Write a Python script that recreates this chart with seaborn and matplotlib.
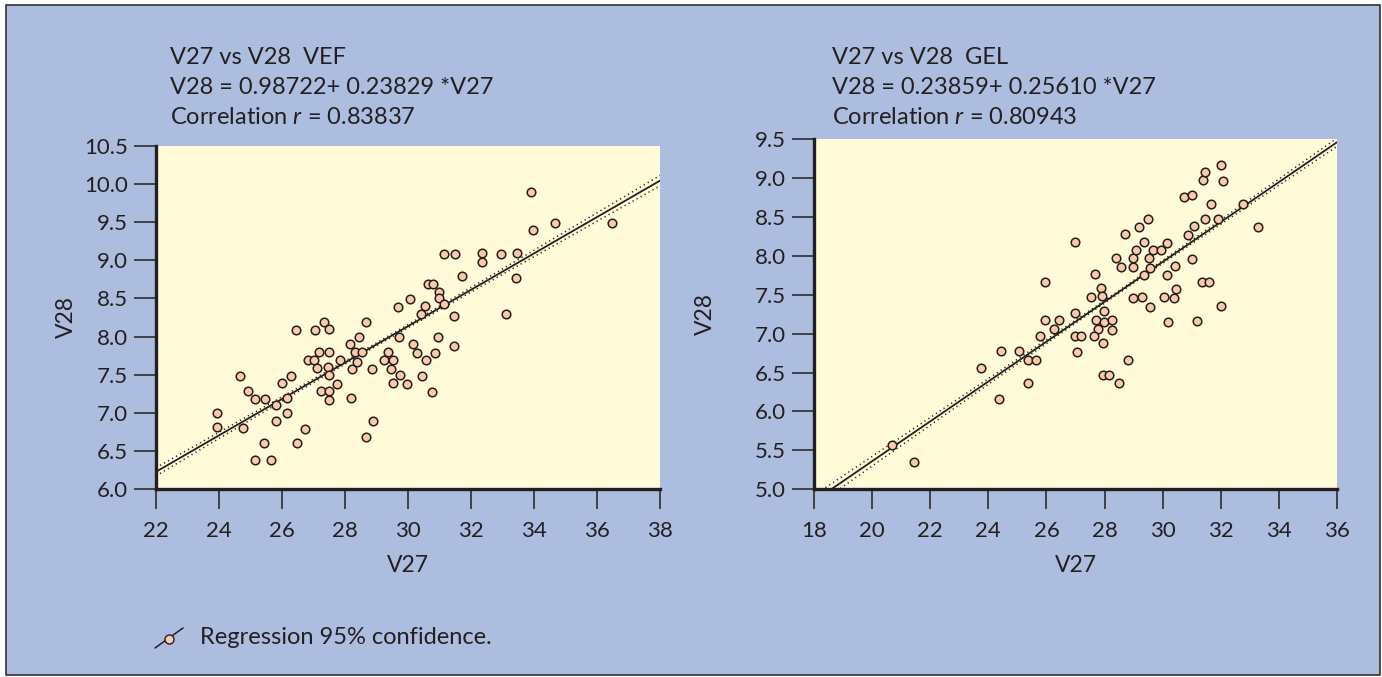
import numpy as np
import pandas as pd
import matplotlib
matplotlib.use("Agg")
import matplotlib.pyplot as plt
import seaborn as sns
from matplotlib.patches import Rectangle
from matplotlib.lines import Line2D

# ---------------- data ----------------
vef_v27 = [23.95, 23.95, 24.68, 24.76, 24.93, 25.13, 25.47, 25.13, 25.43, 25.64,
           25.80, 25.80, 25.99, 26.17, 26.17, 26.28, 26.45, 26.47, 26.73, 26.82,
           27.03, 27.05, 27.10, 27.17, 27.24, 27.34, 27.48, 27.48, 27.47, 27.48,
           27.48, 27.48, 27.74, 27.85, 28.15, 28.18, 28.23, 28.31, 28.39, 28.44,
           28.55, 28.66, 28.66, 28.86, 28.88, 29.25, 29.38, 29.51, 29.46, 29.51,
           29.69, 29.73, 29.75, 29.96, 30.06, 30.17, 30.28, 30.44, 30.42, 30.54,
           30.57, 30.64, 30.79, 30.76, 30.87, 30.95, 30.97, 30.97, 31.14, 31.14,
           31.48, 31.46, 31.47, 31.72, 32.35, 32.34, 32.94, 33.12, 33.43, 33.47,
           33.89, 33.98, 34.67, 36.49]
vef_v28 = [7.00, 6.82, 7.49, 6.80, 7.29, 7.18, 7.18, 6.39, 6.60, 6.38,
           7.10, 6.89, 7.39, 7.20, 7.00, 7.49, 8.09, 6.60, 6.79, 7.69,
           7.69, 8.09, 7.59, 7.80, 7.29, 8.19, 8.10, 7.80, 7.60, 7.50,
           7.29, 7.17, 7.38, 7.69, 7.90, 7.19, 7.58, 7.80, 7.67, 7.99,
           7.80, 8.19, 6.68, 7.58, 6.89, 7.69, 7.80, 7.69, 7.58, 7.39,
           8.39, 7.99, 7.50, 7.38, 8.49, 7.90, 7.78, 7.49, 8.29, 8.40,
           7.69, 8.69, 8.69, 7.28, 7.78, 7.99, 8.59, 8.50, 8.43, 9.08,
           9.08, 8.27, 7.88, 8.79, 9.09, 8.98, 9.08, 8.29, 8.77, 9.09,
           9.89, 9.39, 9.49, 9.49]

gel_v27 = [20.70, 21.45, 23.76, 24.38, 24.42, 25.04, 25.35, 25.36, 25.65, 25.77,
           25.95, 25.95, 26.25, 26.42, 26.97, 26.97, 26.97, 27.19, 27.05, 27.67,
           27.55, 27.87, 27.90, 27.98, 27.70, 27.98, 27.76, 27.63, 27.94, 28.27,
           28.26, 27.94, 28.16, 28.48, 28.79, 28.41, 28.58, 28.69, 28.97, 28.97,
           28.97, 29.09, 29.18, 29.29, 29.36, 29.36, 29.49, 29.52, 29.57, 29.56,
           29.68, 29.95, 30.06, 30.16, 30.14, 30.19, 30.40, 30.42, 30.46, 30.75,
           31.01, 30.87, 31.08, 31.01, 31.18, 31.36, 31.58, 31.38, 31.45, 31.67,
           31.46, 31.90, 32.01, 32.02, 32.08, 32.78, 33.29]
gel_v28 = [5.57, 5.35, 6.56, 6.16, 6.78, 6.78, 6.36, 6.66, 6.66, 6.97,
           7.66, 7.17, 7.06, 7.18, 8.18, 7.27, 6.97, 6.97, 6.76, 7.76,
           7.47, 7.58, 7.48, 7.29, 7.18, 7.15, 7.06, 6.97, 6.88, 7.17,
           7.05, 6.47, 6.47, 6.36, 6.66, 7.97, 7.85, 8.28, 7.97, 7.86,
           7.46, 8.07, 8.37, 7.47, 8.18, 7.75, 8.47, 7.97, 7.84, 7.34,
           8.07, 8.07, 7.47, 8.17, 7.75, 7.15, 7.46, 7.87, 7.57, 8.76,
           8.78, 8.27, 8.38, 7.96, 7.16, 7.66, 7.66, 8.97, 9.07, 8.66,
           8.47, 8.47, 7.35, 9.17, 8.96, 8.66, 8.37]

titles = ["V27 vs V28  VEF", "V27 vs V28  GEL"]
intercepts = [0.98722, 0.23859]
slopes = [0.23829, 0.25610]
equations = ["V28 = 0.98722+ 0.23829 *V27", "V28 = 0.23859+ 0.25610 *V27"]
correlations = ["0.83837", "0.80943"]
ci_factor = [0.40, 0.30]   # width factor of the confidence lines
xlims = [(22, 38), (18, 36)]
ylims = [(6.0, 10.5), (5.0, 9.5)]
xticks = [list(range(22, 39, 2)), list(range(18, 37, 2))]
yticks = [[6.0, 6.5, 7.0, 7.5, 8.0, 8.5, 9.0, 9.5, 10.0, 10.5],
          [5.0, 5.5, 6.0, 6.5, 7.0, 7.5, 8.0, 8.5, 9.0, 9.5]]
legend_label = "Regression 95% confidence."

# ---------------- style ----------------
BG = "#adbde0"
FACE = "#fffad8"
INK = "#231f20"
PEACH = "#fcc9a9"

sns.set_theme(style="ticks")
plt.rcParams["font.family"] = ["Lato", "DejaVu Sans"]
plt.rcParams["mathtext.fontset"] = "custom"
plt.rcParams["mathtext.rm"] = "Lato"
plt.rcParams["mathtext.it"] = "Lato:italic"

W, H = 1382, 677
fig = plt.figure(figsize=(W / 100, H / 100), dpi=100, facecolor="white")
fig.add_artist(Rectangle((6 / W, 1 - 675 / H), (1380 - 6) / W, (675 - 5) / H,
                         transform=fig.transFigure, facecolor=BG,
                         edgecolor="#333333", linewidth=1.2, zorder=-10))

def px_rect(x0, y0, x1, y1):
    return [x0 / W, 1 - y1 / H, (x1 - x0) / W, (y1 - y0) / H]

axes_px = [(156, 145.7, 660, 489.3), (814, 139, 1337, 489.3)]
ylabel_x_px = [66, 705]
xlabel_y_px = 566
title_x = [170, 832]
datasets = [(vef_v27, vef_v28), (gel_v27, gel_v28)]
TXT = 17

for i in range(2):
    x0, y0, x1, y1 = axes_px[i]
    ax = fig.add_axes(px_rect(x0, y0, x1, y1))
    ax.set_facecolor(FACE)
    xs, ys = np.array(datasets[i][0]), np.array(datasets[i][1])
    df = pd.DataFrame({"V27": xs, "V28": ys})

    # regression line and confidence lines
    a, b = intercepts[i], slopes[i]
    n = len(xs)
    resid = ys - (a + b * xs)
    s = np.sqrt(np.sum(resid ** 2) / (n - 2))
    xbar = xs.mean()
    sxx = np.sum((xs - xbar) ** 2)
    xg = np.linspace(xlims[i][0], xlims[i][1], 200)
    yfit = a + b * xg
    half = ci_factor[i] * s * np.sqrt(1 / n + (xg - xbar) ** 2 / sxx)
    line_df = pd.DataFrame({"x": xg, "fit": yfit, "lo": yfit - half, "hi": yfit + half})
    sns.lineplot(data=line_df, x="x", y="fit", ax=ax, color=INK, lw=1.3, zorder=3)
    for col in ["lo", "hi"]:
        sns.lineplot(data=line_df, x="x", y=col, ax=ax, color=INK, lw=1.1,
                     linestyle=(0, (0.8, 2.2)), zorder=3)

    sns.scatterplot(data=df, x="V27", y="V28", ax=ax, s=38, color=PEACH,
                    edgecolor=INK, linewidth=1.1, zorder=4)

    ax.set_xlim(*xlims[i])
    ax.set_ylim(*ylims[i])
    ax.set_xticks(xticks[i])
    ax.set_yticks(yticks[i])
    ax.set_yticklabels([f"{v:.1f}" for v in yticks[i]])
    for sp in ["top", "right"]:
        ax.spines[sp].set_visible(False)
    for sp in ["left", "bottom"]:
        ax.spines[sp].set_linewidth(2.4)
        ax.spines[sp].set_color(INK)
    ax.tick_params(axis="x", direction="out", length=14.5, width=1.1, color=INK,
                   labelsize=16, labelcolor=INK, pad=8)
    ax.tick_params(axis="y", direction="out", length=16, width=1.1, color=INK,
                   labelsize=16, labelcolor=INK, pad=4)
    ax.set_xlabel("V27", fontsize=16.5, color=INK)
    ax.set_ylabel("V28", fontsize=16.5, color=INK)
    ax.xaxis.set_label_coords(0.5, (y1 - xlabel_y_px) / (y1 - y0))
    ax.xaxis.label.set_va("center")
    ax.yaxis.set_label_coords((ylabel_x_px[i] - x0) / (x1 - x0), 0.5)
    ax.yaxis.label.set_va("center")

    tx = title_x[i] / W
    fig.text(tx, 1 - 57 / H, titles[i], fontsize=TXT, color=INK, va="center", ha="left")
    fig.text(tx, 1 - 87 / H, equations[i], fontsize=TXT, color=INK, va="center", ha="left")
    fig.text(tx, 1 - 117 / H, "Correlation $r$ = " + correlations[i], fontsize=TXT,
             color=INK, va="center", ha="left")

# legend (drawn as a key symbol + label)
fig.add_artist(Line2D([155 / W, 183 / W], [1 - 648 / H, 1 - 628 / H],
                      transform=fig.transFigure, color=INK, lw=1.1))
fig.add_artist(Line2D([169.3 / W], [1 - 639 / H], transform=fig.transFigure,
                      marker="o", markersize=6.5, markerfacecolor=PEACH,
                      markeredgecolor=INK, markeredgewidth=1.0, linestyle="none"))
fig.text(200 / W, 1 - 638 / H, legend_label, fontsize=TXT, color=INK, va="center", ha="left")

fig.savefig("out.png", dpi=100, facecolor="white")
